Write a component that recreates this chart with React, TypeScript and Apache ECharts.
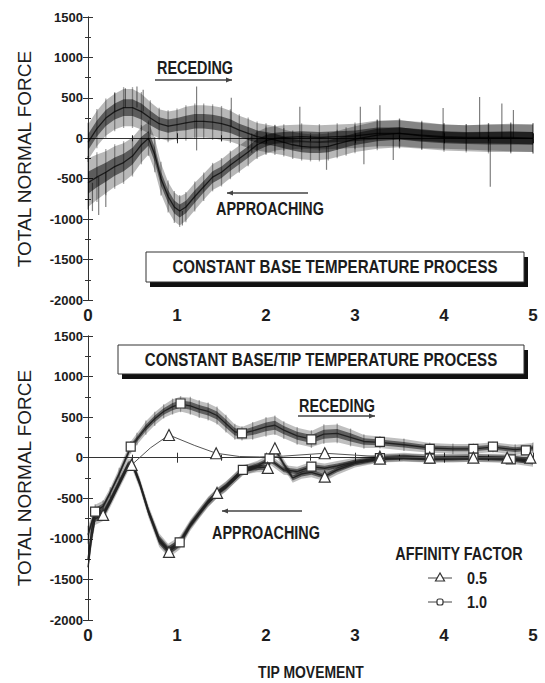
import React, { useEffect, useRef } from "react";
import * as echarts from "echarts";

type Band = [number, number, number][]; // [x, centre, half-width of noise]

// ---- TOP PANEL: constant base temperature process ----
const recedingTop: Band = [
  [0, -50, 220], [0.1, 120, 220], [0.2, 250, 220], [0.3, 330, 220], [0.4, 380, 230], [0.5, 380, 230],
  [0.6, 330, 220], [0.7, 250, 200], [0.8, 180, 180], [0.9, 150, 180], [1.0, 170, 180], [1.1, 190, 200],
  [1.2, 210, 200], [1.3, 210, 200], [1.4, 200, 200], [1.5, 180, 200], [1.6, 150, 190], [1.7, 100, 180],
  [1.8, 60, 180], [1.9, 20, 170], [2.0, 0, 170], [2.1, -20, 170], [2.2, -50, 160], [2.3, -80, 160],
  [2.4, -100, 160], [2.5, -110, 160], [2.6, -110, 160], [2.7, -100, 160], [2.8, -70, 160], [2.9, -40, 160],
  [3.0, -10, 160], [3.25, 40, 170], [3.5, 60, 170], [3.75, 30, 160], [4.0, 10, 160], [4.25, 0, 160],
  [4.5, 0, 170], [4.75, 0, 170], [5.0, 0, 170],
];
const approachingTop: Band = [
  [0, -550, 300], [0.1, -480, 280], [0.2, -420, 260], [0.3, -350, 250], [0.4, -300, 240], [0.5, -220, 230],
  [0.6, -80, 220], [0.68, 0, 200], [0.75, -200, 200], [0.82, -500, 190], [0.9, -720, 180], [0.97, -850, 180],
  [1.03, -900, 180], [1.1, -850, 170], [1.2, -720, 170], [1.3, -600, 160], [1.4, -480, 160], [1.5, -420, 160],
  [1.6, -330, 160], [1.7, -250, 160], [1.8, -170, 160], [1.9, -80, 160], [2.0, -30, 160], [2.1, 0, 150],
  [2.2, 10, 150], [2.4, 20, 150], [2.6, 10, 150], [2.8, 20, 150], [3.0, 30, 150], [3.25, 60, 160],
  [3.5, 60, 160], [3.75, 40, 160], [4.0, 20, 150], [4.25, 10, 150], [4.5, 10, 160], [4.75, 10, 170], [5.0, 0, 170],
];
// isolated noise spikes: [x, from, to]
const spikesTop: [number, number, number][] = [
  [0.05, -550, -900], [0.12, -480, -950], [0.2, -420, -850], [0.3, 330, 560], [0.42, 380, 620],
  [0.55, 380, 640], [0.62, 330, 600], [1.06, -900, -1080], [1.22, 200, 640], [1.22, 200, -150],
  [1.61, 150, 500], [1.84, 60, -180], [2.38, -100, 390], [2.68, -100, -390], [3.06, 0, 390],
  [3.1, 0, -320], [3.28, 40, 410], [3.43, 60, -270], [3.99, 10, 374], [4.4, 0, 510],
  [4.52, 0, -600], [4.65, 0, 430], [4.78, 0, 350],
];

// ---- BOTTOM PANEL: constant base/tip temperature process ----
const approachingBottom10: Band = [
  [0, -1250, 120], [0.04, -900, 100], [0.08, -680, 80], [0.17, -690, 70], [0.25, -520, 60], [0.35, -300, 60],
  [0.45, -80, 60], [0.5, -60, 60], [0.58, -300, 60], [0.68, -650, 60], [0.8, -1000, 70], [0.9, -1130, 70],
  [1.03, -1040, 70], [1.15, -820, 60], [1.25, -680, 60], [1.35, -540, 60], [1.45, -440, 60], [1.55, -360, 60],
  [1.65, -250, 60], [1.74, -160, 60], [1.9, -100, 60], [2.04, -20, 60], [2.2, -150, 60], [2.35, -170, 60],
  [2.51, -110, 60], [2.66, -130, 60], [2.8, -100, 60], [3.0, -50, 50], [3.28, -5, 50], [3.55, 10, 50],
  [3.84, -10, 50], [4.1, 0, 50], [4.33, 0, 50], [4.55, -10, 50], [4.75, -20, 50], [5.0, -60, 50],
];
const approachingBottom05: Band = [
  [0, -1350, 100], [0.04, -1000, 90], [0.08, -750, 80], [0.17, -710, 70], [0.25, -550, 60], [0.35, -330, 60],
  [0.45, -110, 60], [0.5, -90, 60], [0.58, -320, 60], [0.68, -680, 60], [0.8, -1030, 70], [0.91, -1160, 70],
  [1.03, -1060, 70], [1.15, -840, 60], [1.25, -690, 60], [1.35, -550, 60], [1.45, -434, 60], [1.55, -350, 60],
  [1.65, -250, 60], [1.74, -150, 60], [1.9, -120, 60], [2.02, -120, 60], [2.1, 110, 60], [2.2, -80, 60],
  [2.3, -250, 60], [2.4, -200, 60], [2.51, -180, 60], [2.66, -230, 60], [2.8, -150, 60], [3.0, -70, 50],
  [3.28, -10, 50], [3.55, 0, 50], [3.84, -10, 50], [4.1, -10, 50], [4.33, 0, 50], [4.55, 0, 50],
  [4.75, 0, 50], [5.0, -30, 50],
];
const recedingBottom10: Band = [
  [0, -950, 100], [0.08, -660, 80], [0.17, -600, 70], [0.25, -430, 60], [0.35, -200, 70], [0.48, 130, 70],
  [0.55, 230, 70], [0.65, 370, 80], [0.75, 480, 80], [0.85, 570, 80], [0.95, 630, 90], [1.04, 660, 90],
  [1.15, 640, 100], [1.25, 600, 100], [1.35, 570, 100], [1.45, 520, 100], [1.55, 420, 100], [1.65, 320, 90],
  [1.73, 300, 80], [1.85, 330, 100], [2.0, 380, 110], [2.1, 400, 110], [2.2, 340, 100], [2.35, 270, 100],
  [2.51, 230, 100], [2.65, 290, 110], [2.8, 300, 110], [2.95, 250, 100], [3.1, 200, 80], [3.28, 190, 70],
  [3.55, 160, 70], [3.84, 120, 60], [4.1, 110, 60], [4.33, 110, 60], [4.55, 130, 60], [4.8, 100, 60],
  [5.0, 120, 60],
];
const recedingBottom05: [number, number][] = [
  [0.49, -89], [0.7, 120], [0.91, 280], [1.2, 150], [1.44, 55], [1.7, 15], [1.93, 10], [2.2, 20],
  [2.66, 55], [3.28, 13], [3.84, 0], [4.33, 0], [4.97, 0],
];
// marker positions
const squaresReceding10: [number, number][] = [
  [0.48, 136], [1.04, 668], [1.73, 301], [2.51, 227], [3.28, 195], [3.84, 110], [4.33, 108], [4.55, 136], [4.92, 90],
];
const squaresApproaching10: [number, number][] = [
  [0.08, -665], [1.03, -1044], [1.74, -151], [2.04, -7], [2.51, -110], [3.28, -5], [3.84, -10], [4.33, 0], [4.75, -20],
];
const trianglesReceding05: [number, number][] = [
  [0.49, -89], [0.91, 280], [1.44, 55], [2.66, 55], [3.28, 13], [3.84, 0], [4.33, 0], [4.97, 0],
];
const trianglesApproaching05: [number, number][] = [
  [0.17, -705], [0.91, -1161], [1.45, -434], [2.02, -126], [2.1, 116], [2.66, -233], [3.28, -10], [4.71, 0],
];

const FONT = "'Liberation Sans', Arial, sans-serif";
const INK = "#1c1c1c";

function bandSeries(data: Band, axis: number, outer: string, inner: string, innerFrac: number, hatch: string | null) {
  return {
    type: "custom",
    xAxisIndex: axis,
    yAxisIndex: axis,
    silent: true,
    z: 2,
    data: data.map((d) => [d[0], d[1], d[2]]),
    encode: { x: 0, y: 1 },
    renderItem: (params: any, api: any) => {
      const children: any[] = [];
      if (hatch) {
        const d = data[params.dataIndex];
        const p1 = api.coord([d[0], d[1] + d[2] * 1.1]);
        const p2 = api.coord([d[0], d[1] - d[2] * 1.1]);
        children.push({ type: "line", shape: { x1: p1[0], y1: p1[1], x2: p2[0], y2: p2[1] }, style: { stroke: hatch, lineWidth: 1.3 } });
      }
      if (params.dataIndex === 0) {
        const up = data.map((d) => api.coord([d[0], d[1] + d[2]]));
        const lo = data.map((d) => api.coord([d[0], d[1] - d[2]])).reverse();
        const upI = data.map((d) => api.coord([d[0], d[1] + d[2] * innerFrac]));
        const loI = data.map((d) => api.coord([d[0], d[1] - d[2] * innerFrac])).reverse();
        children.unshift(
          { type: "polygon", shape: { points: up.concat(lo) }, style: { fill: outer } },
          { type: "polygon", shape: { points: upI.concat(loI) }, style: { fill: inner } },
        );
      }
      return { type: "group", children };
    },
  };
}

function centreLine(data: Band | [number, number][], axis: number, color: string, width: number) {
  return {
    type: "line",
    xAxisIndex: axis,
    yAxisIndex: axis,
    silent: true,
    symbol: "none",
    z: 3,
    data: data.map((d) => [d[0], d[1]]),
    lineStyle: { color, width },
  };
}

function markers(data: [number, number][], symbol: string, size: number) {
  return {
    type: "scatter",
    xAxisIndex: 2,
    yAxisIndex: 2,
    silent: true,
    symbol,
    symbolSize: size,
    z: 5,
    data,
    itemStyle: { color: "#fff", borderColor: "#333", borderWidth: 1.2, opacity: 1 },
  };
}

function axesFor(gridIndex: number) {
  const line = { show: true, lineStyle: { color: "#333", width: 1 } };
  const xBase = {
    type: "value", gridIndex, min: 0, max: 5, interval: 1,
    axisLine: line, splitLine: { show: false },
    axisTick: { show: true, inside: true, length: 5, lineStyle: { color: "#333" } },
    minorTick: { show: true, splitNumber: 2, length: 3, lineStyle: { color: "#333" } },
  };
  const yBase = {
    type: "value", gridIndex, min: -2000, max: 1500, interval: 500,
    axisLine: line, splitLine: { show: false },
    axisTick: { show: true, inside: true, length: 5, lineStyle: { color: "#333" } },
    minorTick: { show: true, splitNumber: 2, length: 3, lineStyle: { color: "#333" } },
  };
  return {
    x: [
      { ...xBase, position: "bottom", axisLabel: { show: true, fontSize: 17, fontWeight: "bold", color: INK, fontFamily: FONT, margin: 7, formatter: (v: number) => String(v) } },
      { ...xBase, position: "top", axisLabel: { show: false } },
    ],
    y: [
      { ...yBase, position: "left", axisLabel: { show: true, fontSize: 13, fontWeight: "bold", color: INK, fontFamily: FONT, margin: 5, formatter: (v: number) => String(v) } },
      { ...yBase, position: "right", axisLabel: { show: false } },
    ],
  };
}

function txt(text: string, x: number, y: number, fontSize: number, scaleX = 1, rotation = 0, weight = "bold") {
  return {
    type: "text", x, y, scaleX, rotation, z: 100,
    style: { text, fontSize, fontWeight: weight, fontFamily: FONT, fill: INK, align: "center", verticalAlign: "middle" },
  };
}
function arrow(x1: number, x2: number, y: number, headRight: boolean) {
  const hx = headRight ? x2 : x1;
  const d = headRight ? -6 : 6;
  return [
    { type: "line", z: 100, shape: { x1, y1: y, x2, y2: y }, style: { stroke: "#444", lineWidth: 1.3 } },
    { type: "polygon", z: 100, shape: { points: [[hx, y], [hx + d, y - 2.5], [hx + d, y + 2.5]] }, style: { fill: "#444" } },
  ];
}
function shadowBox(x: number, y: number, w: number, h: number) {
  return [
    { type: "rect", z: 99, shape: { x: x + 4, y: y + 5, width: w, height: h }, style: { fill: "#111" } },
    { type: "rect", z: 100, shape: { x, y, width: w, height: h }, style: { fill: "#fff", stroke: "#333", lineWidth: 1 } },
  ];
}

export default function App() {
  const ref = useRef<HTMLDivElement>(null);
  useEffect(() => {
    if (!ref.current) return;
    const chart = echarts.init(ref.current, null, { renderer: "svg" });
    const a0 = axesFor(0);
    const a1 = axesFor(1);
    const option: any = {
      animation: false,
      backgroundColor: "#fff",
      grid: [
        { left: 88, top: 17, width: 445, height: 283 },
        { left: 88, top: 336, width: 445, height: 284 },
      ],
      xAxis: [...a0.x, ...a1.x],
      yAxis: [...a0.y, ...a1.y],
      series: [
        bandSeries(recedingTop, 0, "rgba(0,0,0,0.28)", "rgba(0,0,0,0.5)", 0.45, "rgba(0,0,0,0.35)"),
        bandSeries(approachingTop, 0, "rgba(0,0,0,0.28)", "rgba(0,0,0,0.5)", 0.45, "rgba(0,0,0,0.35)"),
        {
          type: "custom", xAxisIndex: 0, yAxisIndex: 0, silent: true, z: 2,
          data: spikesTop, encode: { x: 0, y: [1, 2] },
          renderItem: (params: any, api: any) => {
            const p1 = api.coord([api.value(0), api.value(1)]);
            const p2 = api.coord([api.value(0), api.value(2)]);
            return { type: "line", shape: { x1: p1[0], y1: p1[1], x2: p2[0], y2: p2[1] }, style: { stroke: "rgba(0,0,0,0.5)", lineWidth: 1.2 } };
          },
        },
        centreLine(recedingTop, 0, "rgba(0,0,0,0.7)", 1.3),
        centreLine(approachingTop, 0, "rgba(0,0,0,0.7)", 1.3),

        bandSeries(approachingBottom10, 2, "rgba(0,0,0,0.25)", "rgba(0,0,0,0.5)", 0.5, null),
        bandSeries(approachingBottom05, 2, "rgba(0,0,0,0.25)", "rgba(0,0,0,0.5)", 0.5, null),
        bandSeries(recedingBottom10, 2, "rgba(0,0,0,0.25)", "rgba(0,0,0,0.5)", 0.5, "rgba(0,0,0,0.3)"),
        centreLine(approachingBottom10, 2, "#222", 1.3),
        centreLine(approachingBottom05, 2, "#222", 1.3),
        centreLine(recedingBottom10, 2, "#222", 1.3),
        centreLine(recedingBottom05, 2, "#555", 1),
        markers(squaresReceding10, "rect", 9),
        markers(squaresApproaching10, "rect", 9),
        markers(trianglesReceding05, "triangle", 11),
        markers(trianglesApproaching05, "triangle", 11),
      ],
      graphic: [
        // top panel annotations
        txt("RECEDING", 195, 67, 18, 0.8),
        ...arrow(155, 232, 80, true),
        txt("APPROACHING", 270, 208, 18, 0.8),
        ...arrow(227, 308, 193, false),
        ...shadowBox(146, 252, 378, 30),
        txt("CONSTANT BASE TEMPERATURE PROCESS", 335, 267, 18, 0.84),
        // bottom panel annotations
        ...shadowBox(118, 345, 406, 29),
        txt("CONSTANT BASE/TIP TEMPERATURE PROCESS", 321, 360, 18, 0.84),
        txt("RECEDING", 337, 405, 18, 0.8),
        ...arrow(298, 375, 416, true),
        txt("APPROACHING", 266, 532, 18, 0.8),
        ...arrow(222, 302, 511, false),
        // legend
        txt("AFFINITY FACTOR", 459, 553, 18, 0.8),
        { type: "line", z: 100, shape: { x1: 428, y1: 578, x2: 452, y2: 578 }, style: { stroke: "#444", lineWidth: 1 } },
        { type: "polygon", z: 101, shape: { points: [[440, 573], [435.5, 581], [444.5, 581]] }, style: { fill: "#fff", stroke: "#333", lineWidth: 1.2 } },
        txt("0.5", 477, 578, 17, 0.85),
        { type: "line", z: 100, shape: { x1: 428, y1: 602, x2: 452, y2: 602 }, style: { stroke: "#444", lineWidth: 1 } },
        { type: "rect", z: 101, shape: { x: 437, y: 599, width: 6, height: 6, r: 2 }, style: { fill: "#fff", stroke: "#333", lineWidth: 1.2 } },
        txt("1.0", 477, 602, 17, 0.85),
        // axis titles
        txt("TOTAL NORMAL FORCE", 24, 159, 19, 1, Math.PI / 2, "normal"),
        txt("TOTAL NORMAL FORCE", 24, 478, 19, 1, Math.PI / 2, "normal"),
        txt("TIP MOVEMENT", 311, 672, 17, 0.82),
      ],
    };
    chart.setOption(option);
    return () => chart.dispose();
  }, []);
  return <div ref={ref} style={{ position: "absolute", left: 0, top: 0, width: 545, height: 683 }} />;
}
